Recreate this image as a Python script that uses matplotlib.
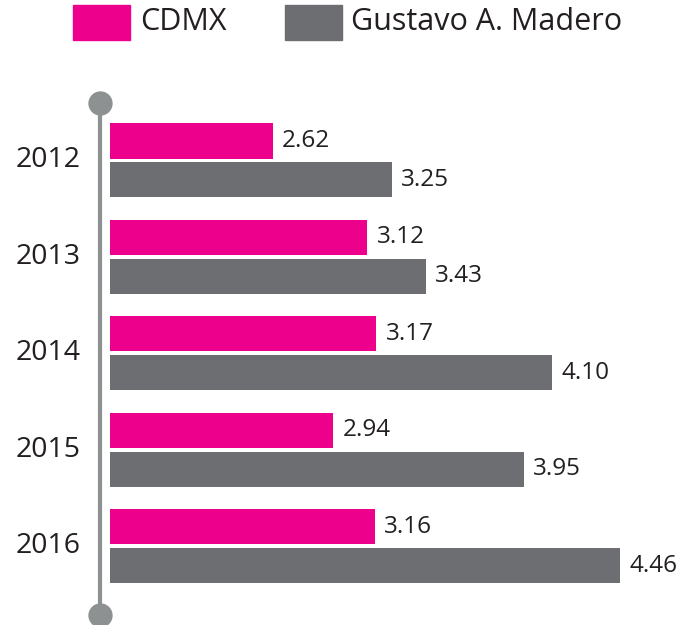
import matplotlib
matplotlib.use("Agg")
import matplotlib.pyplot as plt
from matplotlib.patches import Rectangle
from matplotlib.lines import Line2D
import matplotlib.transforms as mtrans
import numpy as np

plt.rcParams['font.family'] = ['Open Sans', 'DejaVu Sans']

years = ["2012", "2013", "2014", "2015", "2016"]
cdmx = [2.62, 3.12, 3.17, 2.94, 3.16]
gam = [3.25, 3.43, 4.10, 3.95, 4.46]
series_names = ["CDMX", "Gustavo A. Madero"]

PINK = "#EC008C"
GRAY = "#6D6E71"
LINE = "#8E9192"
TEXT = "#231F20"

W, H = 700, 625
fig = plt.figure(figsize=(W / 100, H / 100), dpi=100)

def fx(px):
    return px / W

def fy(py):
    return 1 - py / H

ax_left, ax_right = 110, 700
ax_top, ax_bot = 102, 612
ax = fig.add_axes([fx(ax_left), fy(ax_bot), fx(ax_right - ax_left), (ax_bot - ax_top) / H])

idx = np.arange(len(years))
off = 0.202
h = 0.363
ax.barh(idx - off, cdmx, height=h, color=PINK)
ax.barh(idx + off, gam, height=h, color=GRAY)

xmin = 1.76
ax.set_xlim(xmin, xmin + (ax_right - ax_left) / 189.0)
ax.set_ylim(4.679, -0.606)
ax.axis("off")

dx = 0.05
for i in idx:
    ax.text(cdmx[i] + dx, i - off, f"{cdmx[i]:.2f}", va="center", ha="left",
            fontsize=17.5, color=TEXT)
    ax.text(gam[i] + dx, i + off, f"{gam[i]:.2f}", va="center", ha="left",
            fontsize=17.5, color=TEXT)

trans = mtrans.blended_transform_factory(fig.transFigure, ax.transData)
for i in idx:
    ax.text(fx(48), i, years[i], transform=trans, ha="center", va="center",
            fontsize=20.5, color=TEXT)

line_x = fx(99.5)
fig.add_artist(Line2D([line_x, line_x], [fy(102), fy(615)], color=LINE, lw=3.0,
                      transform=fig.transFigure, solid_capstyle="butt"))
fig.add_artist(Line2D([line_x, line_x], [fy(102.5), fy(615)], color=LINE, lw=0,
                      marker="o", markersize=17.5, markerfacecolor=LINE,
                      markeredgewidth=0, transform=fig.transFigure))

fig.add_artist(Rectangle((fx(73), fy(40)), fx(57), 35 / H, color=PINK,
                         transform=fig.transFigure))
fig.add_artist(Rectangle((fx(285), fy(40)), fx(57), 35 / H, color=GRAY,
                         transform=fig.transFigure))
fig.text(fx(140), fy(22), series_names[0], ha="left", va="center", fontsize=22,
         color=TEXT)
fig.text(fx(351), fy(22), series_names[1], ha="left", va="center", fontsize=22,
         color=TEXT)

fig.savefig("out.png", dpi=100, facecolor="white")
